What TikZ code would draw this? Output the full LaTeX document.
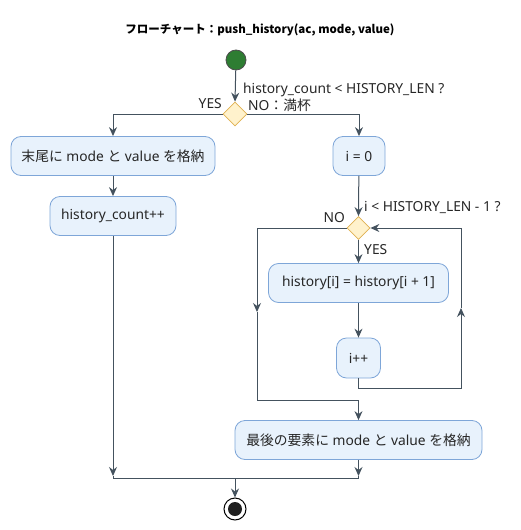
\documentclass[tikz,border=0pt]{standalone}
\usepackage{fontspec}
\setmainfont{Noto Sans}
\newfontfamily\jp{Noto Sans CJK JP}
\usetikzlibrary{arrows.meta,shapes.geometric}
\definecolor{boxfill}{HTML}{E8F2FC}
\definecolor{boxline}{HTML}{7EA6D8}
\definecolor{dfill}{HTML}{FFF2CC}
\definecolor{dline}{HTML}{E0B050}
\definecolor{edgec}{HTML}{44525E}
\definecolor{startg}{HTML}{2E7D32}
\begin{document}
\begin{tikzpicture}[x=1pt,y=-1pt,
  act/.style={draw=boxline, fill=boxfill, rounded corners=10pt, minimum height=39pt, inner sep=0pt, line width=0.8pt, font=\fontsize{13.8}{15}\selectfont, text=black!85},
  dec/.style={diamond, draw=dline, fill=dfill, minimum width=24pt, minimum height=24pt, inner sep=0pt, line width=0.8pt},
  flow/.style={draw=edgec, line width=1pt},
  arr/.style={flow, -{Stealth[length=9pt,width=8pt,inset=3pt]}},
  lbl/.style={font=\fontsize{13.8}{15}\selectfont, text=black!85, inner sep=0pt}
]
\useasboundingbox (0,0) rectangle (521,530);

\node[font=\jp\bfseries\fontsize{11.5}{14}\selectfont, text=black] (title) at (260,30) {フローチャート：push\_history(ac, mode, value)};

\node[circle, fill=startg, draw=black!70, line width=0.8pt, minimum size=20pt, inner sep=0pt] (start) at (236,60) {};
\node[dec] (d1) at (235,114) {};
\node[lbl, anchor=west] (c1) at (243,89.5) {history\_count < HISTORY\_LEN ?};
\node[lbl, anchor=east] (yes1) at (222,104) {YES};
\node[lbl, anchor=west] (no1) at (248,105) {NO{\jp ：満杯}};

\node[act, minimum width=204pt] (b1) at (113,156) {{\jp 末尾に} mode {\jp と} value {\jp を格納}};
\node[act, minimum width=126pt] (b2) at (113,216) {history\_count++};
\node[act, minimum width=52pt] (b3) at (359,156) {i = 0};
\node[dec, minimum width=23pt, minimum height=23pt] (d2) at (358.5,228) {};
\node[lbl, anchor=west] (c2) at (364,207) {i < HISTORY\_LEN - 1 ?};
\node[lbl, anchor=east] (no2) at (345,218) {NO};
\node[lbl, anchor=west] (yes2) at (364,250) {YES};
\node[act, minimum width=180pt] (b4) at (358.5,283) {history[i] = history[i + 1]};
\node[act, minimum width=44pt, minimum height=40pt] (b5) at (358.5,358) {i++};
\node[act, minimum width=247pt] (b6) at (358.5,440) {{\jp 最後の要素に} mode {\jp と} value {\jp を格納}};

\node[circle, draw=black, fill=white, line width=1pt, minimum size=22pt, inner sep=0pt] (end) at (235,509) {};
\node[circle, fill=black!88, minimum size=14pt, inner sep=0pt] (endin) at (end.center) {};

\draw[arr] (start) -- (d1.north);
\draw[arr] (d1.west) -| (b1.north);
\draw[arr] (d1.east) -| (b3.north);
\draw[arr] (b1) -- (b2);
\draw[arr] (b3) -- (d2.north);
\draw[arr] (d2.south) -- (b4.north);
\draw[arr] (b4) -- (b5);

\coordinate (n1) at (257,228);
\coordinate (n2) at (257,400);
\coordinate (n3) at (358.5,400);
\coordinate (n0) at (257,312);
\draw[arr] (d2.west) -- (n1) -- (n0);
\draw[flow] (n0) -- (n2) -- (n3);
\draw[arr] (n3) -- (b6.north);

\coordinate (l1) at (358.5,388);
\coordinate (l2) at (461,388);
\coordinate (l0) at (461,308);
\coordinate (l3) at (461,228);
\draw[arr] (b5.south) -- (l1) -- (l2) -- (l0);
\draw[arr] (l0) -- (l3) -- (d2.east);

\coordinate (m1) at (113,478);
\coordinate (m2) at (358.5,478);
\coordinate (m3) at (235,478);
\coordinate (a1) at (113,476);
\coordinate (a2) at (358.5,476);
\draw[arr] (b2.south) -- (a1);
\draw[arr] (b6.south) -- (a2);
\draw[flow] (a1) -- (m1) -- (m2) -- (a2);
\draw[arr] (m3) -- (end.north);
\end{tikzpicture}
\end{document}
